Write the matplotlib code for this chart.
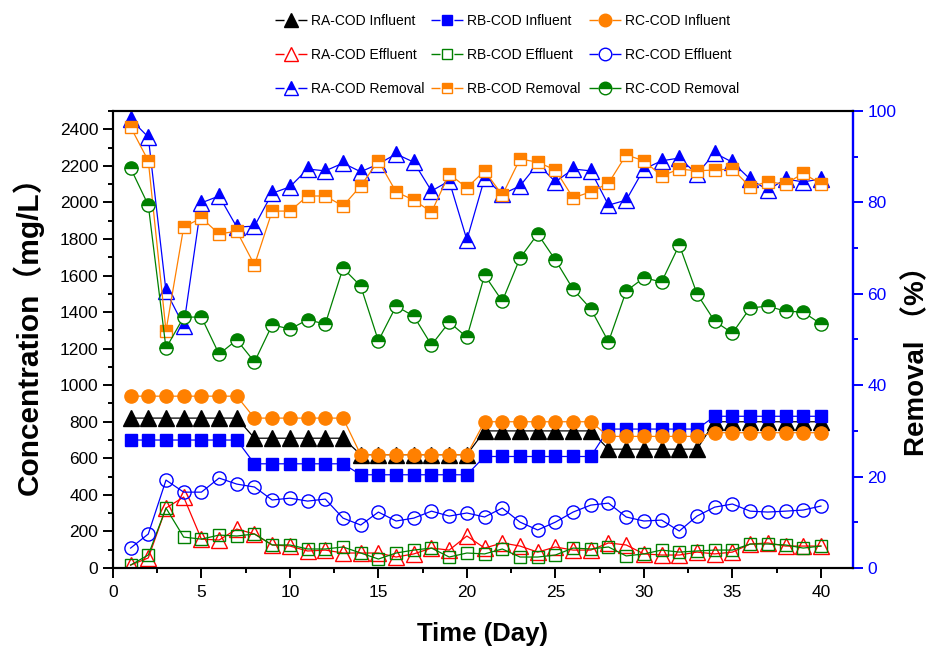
import matplotlib
matplotlib.use("Agg")
import matplotlib.pyplot as plt
from matplotlib.lines import Line2D
from matplotlib.ticker import MultipleLocator

plt.rcParams['font.family'] = ['Liberation Sans', 'Noto Sans CJK SC', 'DejaVu Sans']

days = list(range(1, 41))

ra_inf = [820]*7 + [710]*6 + [620]*7 + [750]*7 + [650]*6 + [800]*7
rb_inf = [700]*7 + [570]*6 + [510]*7 + [610]*7 + [760]*6 + [830]*7
rc_inf = [940]*7 + [820]*6 + [620]*7 + [800]*7 + [720]*6 + [740]*7

ra_eff = [16, 55, 328, 388, 158, 153, 213, 186, 126, 120, 93, 98, 82, 82, 82, 60, 77, 109, 98, 175,
          109, 137, 120, 87, 115, 98, 98, 137, 126, 77, 71, 71, 87, 77, 87, 131, 137, 120, 120, 120]
rb_eff = [16, 71, 328, 169, 158, 180, 175, 186, 126, 126, 104, 104, 115, 82, 49, 82, 98, 109, 60, 82,
          77, 104, 60, 60, 71, 109, 104, 115, 66, 77, 98, 87, 93, 98, 98, 131, 131, 126, 109, 120]
rc_eff = [109, 186, 481, 415, 415, 492, 459, 443, 372, 382, 366, 377, 273, 235, 306, 257, 273, 311, 284, 301,
          279, 328, 251, 208, 251, 306, 344, 355, 279, 257, 262, 202, 284, 333, 350, 311, 306, 311, 317, 339]

ra_rem = [98.2, 94.3, 60.6, 53.0, 79.9, 81.4, 74.6, 74.8, 82.0, 83.4, 87.3, 86.9, 88.6, 86.7, 88.4, 90.6,
          88.8, 82.5, 84.7, 71.8, 85.3, 81.8, 83.6, 88.4, 84.5, 87.3, 86.9, 79.4, 80.5, 87.3, 89.1, 89.7,
          86.2, 90.8, 88.8, 85.1, 82.7, 85.1, 84.5, 85.1]
rb_rem = [96.5, 89.1, 51.9, 74.6, 76.6, 73.1, 73.7, 66.3, 78.1, 78.1, 81.4, 81.4, 79.2, 83.6, 89.1, 82.3,
          80.5, 77.9, 86.2, 83.2, 86.9, 81.6, 89.5, 88.8, 87.1, 81.0, 82.3, 84.2, 90.4, 89.1, 85.8, 87.3,
          86.9, 87.1, 87.3, 83.4, 84.5, 84.0, 86.4, 84.0]
rc_rem = [87.5, 79.4, 48.1, 54.9, 54.9, 46.8, 49.9, 45.1, 53.2, 52.3, 54.3, 53.4, 65.6, 61.7, 49.7, 57.3,
          55.1, 48.8, 53.8, 50.5, 64.1, 58.4, 67.8, 73.1, 67.4, 61.0, 56.7, 49.5, 60.6, 63.5, 62.6, 70.7,
          60.0, 54.0, 51.4, 56.9, 57.3, 56.2, 56.0, 53.4]

BLACK = 'black'
BLUE = '#0000FF'
ORANGE = '#FF8000'
RED = '#FF0000'
GREEN = '#008000'

fig = plt.figure(figsize=(9.33, 6.51), dpi=100)
ax = fig.add_axes([0.121, 0.1275, 0.793, 0.702])
ax2 = ax.twinx()

lw = 0.9
TRI, SQ, CIR = 11, 8.2, 9.5

styles = {
    'ra_inf': dict(color=BLACK, marker='^', ms=TRI, mfc=BLACK, mec=BLACK),
    'rb_inf': dict(color=BLUE, marker='s', ms=SQ, mfc=BLUE, mec=BLUE),
    'rc_inf': dict(color=ORANGE, marker='o', ms=CIR, mfc=ORANGE, mec=ORANGE),
    'ra_eff': dict(color=RED, marker='^', ms=TRI, mfc='none', mec=RED, mew=1.0),
    'rb_eff': dict(color=GREEN, marker='s', ms=SQ, mfc='none', mec=GREEN, mew=1.0),
    'rc_eff': dict(color=BLUE, marker='o', ms=CIR, mfc='none', mec=BLUE, mew=1.0),
    'ra_rem': dict(color=BLUE, marker='^', ms=TRI, mfc=BLUE, mec=BLUE, fillstyle='top',
                   markerfacecoloralt='white', mew=1.0),
    'rb_rem': dict(color=ORANGE, marker='s', ms=SQ, mfc=ORANGE, mec=ORANGE, fillstyle='top',
                   markerfacecoloralt='white', mew=1.0),
    'rc_rem': dict(color=GREEN, marker='o', ms=CIR, mfc=GREEN, mec=GREEN, fillstyle='top',
                   markerfacecoloralt='white', mew=1.0),
}
labels = {
    'ra_inf': 'RA-COD Influent', 'rb_inf': 'RB-COD Influent', 'rc_inf': 'RC-COD Influent',
    'ra_eff': 'RA-COD Effluent', 'rb_eff': 'RB-COD Effluent', 'rc_eff': 'RC-COD Effluent',
    'ra_rem': 'RA-COD Removal', 'rb_rem': 'RB-COD Removal', 'rc_rem': 'RC-COD Removal',
}

ax.plot(days, ra_inf, '-', lw=lw, **styles['ra_inf'])
ax.plot(days, rb_inf, '-', lw=lw, **styles['rb_inf'])
ax.plot(days, rc_inf, '-', lw=lw, **styles['rc_inf'])
ax.plot(days, ra_eff, '-', lw=lw, **styles['ra_eff'])
ax.plot(days, rb_eff, '-', lw=lw, **styles['rb_eff'])
ax.plot(days, rc_eff, '-', lw=lw, **styles['rc_eff'])
ax2.plot(days, ra_rem, '-', lw=lw, **styles['ra_rem'])
ax2.plot(days, rb_rem, '-', lw=lw, **styles['rb_rem'])
ax2.plot(days, rc_rem, '-', lw=lw, **styles['rc_rem'])

ax.set_xlim(0, 41.8)
ax.set_ylim(0, 2500)
ax2.set_ylim(0, 100)

ax.xaxis.set_major_locator(MultipleLocator(5))
ax.xaxis.set_minor_locator(MultipleLocator(2.5))
ax.yaxis.set_major_locator(MultipleLocator(200))
ax.yaxis.set_minor_locator(MultipleLocator(100))
ax2.yaxis.set_major_locator(MultipleLocator(20))
ax2.yaxis.set_minor_locator(MultipleLocator(10))

ax.tick_params(axis='both', which='major', direction='out', length=7, width=1.4, labelsize=12.5)
ax.tick_params(axis='x', which='major', pad=5)
ax.tick_params(axis='both', which='minor', direction='out', length=3.5, width=1.4)
ax2.tick_params(axis='y', which='major', direction='out', length=7, width=1.4, labelsize=12.5,
                colors=BLUE)
ax2.tick_params(axis='y', which='minor', direction='out', length=3.5, width=1.4, colors=BLUE)

for s in ['left', 'bottom', 'top']:
    ax.spines[s].set_linewidth(1.5)
    ax2.spines[s].set_linewidth(1.5)
ax2.spines['right'].set_color(BLUE)
ax2.spines['right'].set_linewidth(1.7)
ax.spines['right'].set_visible(False)

ax.set_xlabel('Time (Day)', fontsize=18.5, fontweight='bold', labelpad=16)
ax.set_ylabel('Concentration（mg/L）', fontsize=21.5, fontweight='bold')
ax.yaxis.set_label_coords(-0.094, 0.524)
ax2.set_ylabel('Removal （%）', fontsize=20, fontweight='bold')
ax2.yaxis.set_label_coords(1.068, 0.467)

# legend: three columns, each placed like the reference; lines broken around the marker
columns = [['ra_inf', 'ra_eff', 'ra_rem'], ['rb_inf', 'rb_eff', 'rb_rem'], ['rc_inf', 'rc_eff', 'rc_rem']]
col_x = [275, 431, 589]
for keys, xpx in zip(columns, col_x):
    proxies = [Line2D([], [], lw=1.0, ls=(0, (6.5, 10)), **styles[k]) for k in keys]
    leg = fig.legend(proxies, [labels[k] for k in keys], loc='upper left',
                     bbox_to_anchor=(xpx / 933, 1 - 14 / 651), borderpad=0, borderaxespad=0,
                     frameon=False, fontsize=10, markerscale=0.95,
                     handlelength=2.3, labelspacing=1.45, handletextpad=0.3)

fig.savefig('out.png', dpi=100)
